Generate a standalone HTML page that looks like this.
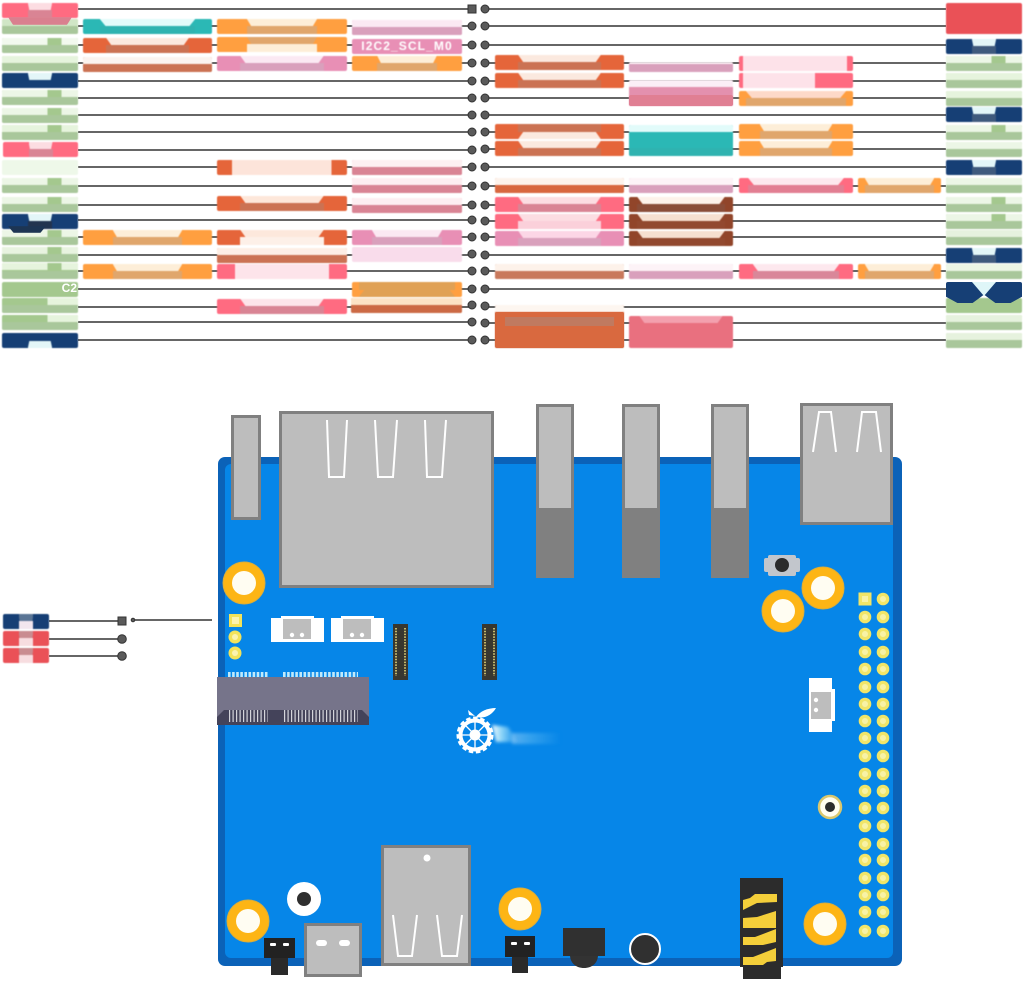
<!DOCTYPE html>
<html><head><meta charset="utf-8"><title>Board pinout</title>
<style>
html,body{margin:0;padding:0;background:#fff}
#p{position:relative;width:1024px;height:981px;overflow:hidden;background:#fff;font-family:"Liberation Sans",sans-serif}
svg{position:absolute;left:0;top:0}
.l{position:absolute;height:15px;border-radius:2px;background:var(--c);overflow:hidden;color:#fff;font-size:12px;font-weight:bold;line-height:15px;text-align:center;white-space:nowrap;filter:blur(.45px)}
.l::before{content:"";position:absolute;left:var(--k,18%);right:var(--k,18%);top:0;height:7px;background:var(--a);clip-path:polygon(0 0,100% 0,94% 100%,6% 100%)}
.l::after{content:"";position:absolute;left:var(--k,18%);right:var(--k,18%);bottom:0;height:8px;background:var(--m)}
.i::before{top:auto;bottom:0;clip-path:polygon(6% 0,94% 0,100% 100%,0 100%)}
.i::after{bottom:auto;top:0}
.w::before{left:0;right:0;height:7px;clip-path:none}
.w::after{left:0;right:0}
.q::before{background:linear-gradient(90deg,var(--a) 0 60%,var(--c) 60% 78%,var(--a) 78%)}
.y::before{background:linear-gradient(90deg,var(--c) 0 60%,var(--a) 60% 100%)}
.f{background:var(--a)}
.f::before{display:none}
.f::after{display:none}
.h::before,.h::after{display:none}
.x{--k:34%}
.g{--c:#a4c88e;--a:#e6f4dd;--m:#a9c79b}
.n{--c:#163f75;--a:#e3f6f8;--m:#3f5a7d}
.p{--c:#ff6b81;--a:#fcdde2;--m:#d98494}
.o{--c:#ff9f40;--a:#fdeed8;--m:#e0a66c;--k:23%}
.r{--c:#e5653a;--a:#fbe9df;--m:#cb7253}
.m{--c:#e88fb5;--a:#fbe9f3;--m:#d9a0bc}
.t{--c:#2bb8b5;--a:#e2fbfa;--m:#2fb3b0;--k:13%}
.b{--c:#91452a;--a:#f6e0d0;--m:#92492f;--k:8%}
.e{--c:#ea5157;--a:#f7dde0;--m:#c98c90}
.c2{position:absolute;z-index:2;color:#fff;font-size:12px;font-weight:bold;text-align:right}
</style></head><body><div id="p">
<svg width="1024" height="981" viewBox="0 0 1024 981">
<g stroke="#333" stroke-width="1.500">
<path d="M78 9H472M78 26H472M78 45H472M78 63H472M78 81H472M78 98H472M78 115H472M78 132H472M78 150H472M78 167H472M78 186H472M78 205H472M78 220H472M78 237H472M78 255H472M78 271H472M78 289H472M78 307H472M78 322H472M78 340H472"/>
<path d="M485 9H946M485 26H946M485 45H946M485 63H946M485 81H946M485 98H946M485 115H946M485 132H946M485 149H946M485 167H946M485 186H946M485 205H946M485 221H946M485 237H946M485 255H946M485 271H946M485 289H946M485 307H946M485 323H946M485 340H946"/>
<path d="M49 621H122M49 639H122M49 656H122M133 620H212"/>
</g>
<g fill="#5a5a5a" stroke="#333" stroke-width="1">
<rect x="468" y="5" width="8" height="8"/>
<circle cx="472" cy="26" r="4"/><circle cx="472" cy="45" r="4"/><circle cx="472" cy="63" r="4"/><circle cx="472" cy="81" r="4"/><circle cx="472" cy="98" r="4"/><circle cx="472" cy="115" r="4"/><circle cx="472" cy="132" r="4"/><circle cx="472" cy="150" r="4"/><circle cx="472" cy="167" r="4"/><circle cx="472" cy="186" r="4"/><circle cx="472" cy="205" r="4"/><circle cx="472" cy="220" r="4"/><circle cx="472" cy="237" r="4"/><circle cx="472" cy="254" r="4"/><circle cx="472" cy="271" r="4"/><circle cx="472" cy="289" r="4"/><circle cx="472" cy="305" r="4"/><circle cx="472" cy="322" r="4"/><circle cx="472" cy="340" r="4"/>
<circle cx="485" cy="9" r="4"/><circle cx="485" cy="26" r="4"/><circle cx="485" cy="45" r="4"/><circle cx="485" cy="63" r="4"/><circle cx="485" cy="81" r="4"/><circle cx="485" cy="98" r="4"/><circle cx="485" cy="115" r="4"/><circle cx="485" cy="132" r="4"/><circle cx="485" cy="149" r="4"/><circle cx="485" cy="167" r="4"/><circle cx="485" cy="186" r="4"/><circle cx="485" cy="205" r="4"/><circle cx="485" cy="221" r="4"/><circle cx="485" cy="237" r="4"/><circle cx="485" cy="255" r="4"/><circle cx="485" cy="271" r="4"/><circle cx="485" cy="289" r="4"/><circle cx="485" cy="306" r="4"/><circle cx="485" cy="323" r="4"/><circle cx="485" cy="340" r="4"/>
<rect x="118" y="617" width="8" height="8"/><circle cx="122" cy="639" r="4.300"/><circle cx="122" cy="656" r="4.300"/><circle cx="133" cy="620" r="1.800"/>
</g>

<!-- board -->
<rect x="218" y="457" width="684" height="509" rx="7" fill="#0b62b8"/>
<rect x="225" y="464" width="668" height="494" rx="6" fill="#0686e8"/>
<defs>
<linearGradient id="sw" x1="0" x2="1"><stop offset="0" stop-color="#f2fbff"/><stop offset=".35" stop-color="#8fd6f8"/><stop offset="1" stop-color="#0686e8"/></linearGradient>
<filter id="bl" x="-20%" y="-50%" width="140%" height="200%"><feGaussianBlur stdDeviation="1.500"/></filter>
</defs>

<g fill="#bdbdbd" stroke="#808080" stroke-width="3">
<rect x="232.500" y="416.500" width="27" height="102"/>
<rect x="280.500" y="412.500" width="212" height="174"/>
<rect x="537.500" y="405.500" width="35" height="171"/>
<rect x="623.500" y="405.500" width="35" height="171"/>
<rect x="712.500" y="405.500" width="35" height="171"/>
<rect x="801.500" y="404.500" width="90" height="119"/>
<rect x="382.500" y="846.500" width="87" height="118"/>
<rect x="305.500" y="924.500" width="55" height="51"/>
</g>
<rect x="536" y="508" width="38" height="70" fill="#808080"/>
<rect x="622" y="508" width="38" height="70" fill="#808080"/>
<rect x="711" y="508" width="38" height="70" fill="#808080"/>
<g fill="none" stroke="#fff" stroke-width="2">
<path d="M327 420L329 477H344L347 420M375 420L378 477H393L397 420M425 420L427 477H442L446 420"/>
<path d="M813 452L819 412H831L836 452M857 452L862 412H876L881 452"/>
<path d="M393 915L398 956H412L417 915M437 915L442 956H457L462 915"/>
</g>
<circle cx="427" cy="858" r="3.500" fill="#fff"/>
<rect x="316" y="940" width="11" height="6" rx="3" fill="#fff"/><rect x="339" y="940" width="11" height="6" rx="3" fill="#fff"/>

<!-- mounting holes -->
<g fill="#fdb515" stroke="#d9ad3c">
<circle cx="244" cy="583" r="21"/><circle cx="823" cy="588" r="21"/><circle cx="783" cy="611" r="21"/><circle cx="248" cy="921" r="21"/><circle cx="520" cy="909" r="21"/><circle cx="825" cy="924" r="21"/>
</g>
<g fill="#fffdf2">
<circle cx="244" cy="583" r="12"/><circle cx="823" cy="588" r="12"/><circle cx="783" cy="611" r="12"/><circle cx="248" cy="921" r="12"/><circle cx="520" cy="909" r="12"/><circle cx="825" cy="924" r="12"/>
</g>

<!-- button -->
<rect x="764" y="558" width="36" height="14" rx="2" fill="#c2c6cc"/><rect x="768" y="555" width="28" height="21" rx="2" fill="#c2c6cc"/><circle cx="782" cy="565" r="7" fill="#2b2b2b"/>

<!-- small pads -->
<rect x="229" y="614" width="13" height="13" fill="#f3e35a"/><rect x="232" y="617" width="7" height="7" fill="#fbf3b0"/>
<circle cx="235" cy="637" r="6.500" fill="#f3e35a"/><circle cx="235" cy="637" r="3" fill="#fbf3b0"/>
<circle cx="235" cy="653" r="6.500" fill="#f3e35a"/><circle cx="235" cy="653" r="3" fill="#fbf3b0"/>

<!-- white connectors -->
<g fill="#fff"><rect x="271" y="618" width="53" height="24"/><rect x="281" y="616" width="33" height="4"/><rect x="331" y="618" width="53" height="24"/><rect x="341" y="616" width="33" height="4"/>
<rect x="809" y="678" width="23" height="54"/><rect x="830" y="689" width="5" height="32"/></g>
<g fill="#bdbdbd"><rect x="283" y="619" width="28" height="20"/><rect x="343" y="619" width="28" height="20"/><rect x="811" y="692" width="20" height="27"/></g>
<g fill="#fff"><circle cx="292" cy="635" r="2.200"/><circle cx="302" cy="635" r="2.200"/><circle cx="352" cy="635" r="2.200"/><circle cx="362" cy="635" r="2.200"/><circle cx="816" cy="700" r="2.200"/><circle cx="816" cy="710" r="2.200"/></g>

<!-- M.2 -->
<path d="M228 674.500H269M283 674.500H358" stroke="#bfe9fb" stroke-width="5" stroke-dasharray="2.600 1.500"/>
<rect x="217" y="677" width="152" height="45" fill="#76748a"/>
<path d="M217 725V717L224 710H362L369 717V725Z" fill="#44435a"/>
<path d="M229 716H268M284 716H358" stroke="#d4d4da" stroke-width="12" stroke-dasharray="1.200 2.300"/>

<!-- FPC -->
<rect x="393" y="624" width="15" height="56" fill="#38372f"/><rect x="482" y="624" width="15" height="56" fill="#38372f"/>
<path d="M396 628V676M405 628V676M485 628V676M494 628V676" stroke="#e4d77c" stroke-width="1.600" stroke-dasharray="1.500 1.300"/>

<!-- logo -->
<path d="M492 725L508 727L518 742H496Z" fill="url(#sw)" filter="url(#bl)"/>
<rect x="512" y="733" width="48" height="11" fill="url(#sw)" opacity=".35" filter="url(#bl)"/>
<circle cx="475" cy="735" r="14.500" fill="none" stroke="#fff" stroke-width="4"/>
<circle cx="475" cy="735" r="17" fill="none" stroke="#fff" stroke-width="3" stroke-dasharray="4.500 2.600"/>
<path d="M475 721V749M461 735H489M465 725L485 745M485 725L465 745" stroke="#fff" stroke-width="1.300"/>
<circle cx="475" cy="735" r="5.500" fill="#fff"/>
<path d="M476 717C480 711 488 708 496 708C492 715 485 719 476 717Z" fill="#fff"/><path d="M468 710L475 716L469 715Z" fill="#fff"/>

<!-- header -->
<g fill="#f1e568">
<rect x="858.500" y="592.500" width="13" height="13"/>
<circle cx="883" cy="599" r="6.300"/>
<circle cx="865" cy="617" r="6.300"/><circle cx="883" cy="617" r="6.300"/><circle cx="865" cy="634" r="6.300"/><circle cx="883" cy="634" r="6.300"/><circle cx="865" cy="652" r="6.300"/><circle cx="883" cy="652" r="6.300"/><circle cx="865" cy="669" r="6.300"/><circle cx="883" cy="669" r="6.300"/><circle cx="865" cy="687" r="6.300"/><circle cx="883" cy="687" r="6.300"/><circle cx="865" cy="704" r="6.300"/><circle cx="883" cy="704" r="6.300"/><circle cx="865" cy="721" r="6.300"/><circle cx="883" cy="721" r="6.300"/><circle cx="865" cy="738" r="6.300"/><circle cx="883" cy="738" r="6.300"/><circle cx="865" cy="756" r="6.300"/><circle cx="883" cy="756" r="6.300"/><circle cx="865" cy="774" r="6.300"/><circle cx="883" cy="774" r="6.300"/><circle cx="865" cy="791" r="6.300"/><circle cx="883" cy="791" r="6.300"/><circle cx="865" cy="808" r="6.300"/><circle cx="883" cy="808" r="6.300"/><circle cx="865" cy="826" r="6.300"/><circle cx="883" cy="826" r="6.300"/><circle cx="865" cy="844" r="6.300"/><circle cx="883" cy="844" r="6.300"/><circle cx="865" cy="860" r="6.300"/><circle cx="883" cy="860" r="6.300"/><circle cx="865" cy="878" r="6.300"/><circle cx="883" cy="878" r="6.300"/><circle cx="865" cy="895" r="6.300"/><circle cx="883" cy="895" r="6.300"/><circle cx="865" cy="912" r="6.300"/><circle cx="883" cy="912" r="6.300"/><circle cx="865" cy="931" r="6.300"/><circle cx="883" cy="931" r="6.300"/>
</g>
<g fill="#f8f2a6">
<rect x="862" y="596" width="6" height="6"/>
<circle cx="883" cy="599" r="3"/><circle cx="865" cy="617" r="3"/><circle cx="883" cy="617" r="3"/><circle cx="865" cy="634" r="3"/><circle cx="883" cy="634" r="3"/><circle cx="865" cy="652" r="3"/><circle cx="883" cy="652" r="3"/><circle cx="865" cy="669" r="3"/><circle cx="883" cy="669" r="3"/><circle cx="865" cy="687" r="3"/><circle cx="883" cy="687" r="3"/><circle cx="865" cy="704" r="3"/><circle cx="883" cy="704" r="3"/><circle cx="865" cy="721" r="3"/><circle cx="883" cy="721" r="3"/><circle cx="865" cy="738" r="3"/><circle cx="883" cy="738" r="3"/><circle cx="865" cy="756" r="3"/><circle cx="883" cy="756" r="3"/><circle cx="865" cy="774" r="3"/><circle cx="883" cy="774" r="3"/><circle cx="865" cy="791" r="3"/><circle cx="883" cy="791" r="3"/><circle cx="865" cy="808" r="3"/><circle cx="883" cy="808" r="3"/><circle cx="865" cy="826" r="3"/><circle cx="883" cy="826" r="3"/><circle cx="865" cy="844" r="3"/><circle cx="883" cy="844" r="3"/><circle cx="865" cy="860" r="3"/><circle cx="883" cy="860" r="3"/><circle cx="865" cy="878" r="3"/><circle cx="883" cy="878" r="3"/><circle cx="865" cy="895" r="3"/><circle cx="883" cy="895" r="3"/><circle cx="865" cy="912" r="3"/><circle cx="883" cy="912" r="3"/><circle cx="865" cy="931" r="3"/><circle cx="883" cy="931" r="3"/>
</g>

<!-- small hole -->
<circle cx="830" cy="807" r="11" fill="#fffdf0" stroke="#d9c76e" stroke-width="2.500"/><circle cx="830" cy="807" r="5" fill="#2b2b2b"/>

<!-- bottom parts -->
<circle cx="304" cy="899" r="17" fill="#fff"/><circle cx="304" cy="899" r="7" fill="#2f2f2f"/>
<rect x="264" y="938" width="31" height="20" fill="#222"/><rect x="271" y="958" width="17" height="17" fill="#2a2a2a"/>
<rect x="505" y="936" width="30" height="21" fill="#222"/><rect x="512" y="957" width="16" height="16" fill="#2a2a2a"/>
<g fill="#fff"><rect x="270" y="943" width="6" height="3" rx="1"/><rect x="283" y="943" width="6" height="3" rx="1"/><rect x="511" y="942" width="6" height="3" rx="1"/><rect x="524" y="942" width="6" height="3" rx="1"/></g>
<path d="M570 955H598C598 963 592 968 584 968C576 968 570 963 570 955Z" fill="#333"/>
<rect x="563" y="928" width="42" height="28" fill="#303030"/>
<circle cx="645" cy="949" r="15" fill="#303030" stroke="#fff" stroke-width="2"/>
<rect x="743" y="960" width="38" height="19" fill="#2c2c2c"/>
<rect x="740" y="878" width="43" height="89" fill="#2c2c2c"/>
<g fill="#f4cf3a">
<path d="M743 900L750 898L755 894H777V902L757 903L743 910Z"/>
<path d="M743 918L757 917L776 911V928H743Z"/>
<path d="M743 937L755 937L776 929V942L763 945H743Z"/>
<path d="M743 957L753 957L776 948V961L767 962L763 965H743Z"/>
</g>
</svg>

<!-- left column -->
<div class="l p x" style="left:2px;top:3px;width:76px"></div>
<div class="l g w" style="left:2px;top:19px;width:76px;--a:#d0e6c6"></div>
<div class="l" style="left:8px;top:17px;width:64px;height:8px;background:#d9808f;border-radius:0;clip-path:polygon(0 0,100% 0,92% 100%,8% 100%)"></div>
<div class="l g w q" style="left:2px;top:38px;width:76px;--a:#f2f9ee"></div>
<div class="l g w" style="left:2px;top:56px;width:76px"></div>
<div class="l n x" style="left:2px;top:73px;width:76px;--m:#163f75"></div>
<div class="l g w q" style="left:2px;top:90px;width:76px;--a:#ecf6e6"></div>
<div class="l g w q" style="left:2px;top:108px;width:76px;--a:#ecf6e6"></div>
<div class="l g w q" style="left:2px;top:125px;width:76px"></div>
<div class="l p x" style="left:3px;top:142px;width:75px"></div>
<div class="l g f" style="left:2px;top:160px;width:76px;--a:#eef8e9"></div>
<div class="l g w q" style="left:2px;top:178px;width:76px;--a:#ecf6e6"></div>
<div class="l g w q" style="left:2px;top:197px;width:76px;--a:#ecf6e6"></div>
<div class="l g w q" style="left:2px;top:230px;width:76px;--a:#ecf6e6"></div>
<div class="l n x" style="left:2px;top:214px;width:76px;--m:#22344f"></div>
<div class="l" style="left:8px;top:226px;width:38px;height:7px;border-radius:0;background:#1d3553;clip-path:polygon(0 0,100% 0,85% 100%,15% 100%)"></div>
<div class="l g w q" style="left:2px;top:247px;width:76px;--a:#e8f3e0"></div>
<div class="l g w q" style="left:2px;top:263px;width:76px;height:16px"></div>
<div class="l g h" style="left:2px;top:282px;width:76px"></div>
<div class="l g w y" style="left:2px;top:298px;width:76px"></div>
<div class="l g w y" style="left:2px;top:315px;width:76px"></div>
<div class="c2" style="left:50px;top:281px;width:27px">C2</div>
<div class="l n i x" style="left:2px;top:333px;width:76px;--m:#163f75"></div>

<!-- col 2 -->
<div class="l t" style="left:83px;top:19px;width:129px"></div>
<div class="l r" style="left:83px;top:38px;width:129px"></div>
<div class="l r w" style="left:83px;top:57px;width:129px;--a:#fbf3ef;--c:#cc6843"></div>
<div class="l o" style="left:83px;top:230px;width:129px"></div>
<div class="l o" style="left:83px;top:264px;width:129px"></div>

<!-- col 3 -->
<div class="l o" style="left:217px;top:19px;width:130px"></div>
<div class="l o" style="left:217px;top:37px;width:130px;--a:#e0a66c;--m:#fdeed8"></div>
<div class="l m" style="left:217px;top:56px;width:130px"></div>
<div class="l r f" style="left:217px;top:160px;width:130px;background:linear-gradient(90deg,#e5653a 0 15px,#fde4da 15px 88%,#e5653a 88%)"></div>
<div class="l r" style="left:217px;top:196px;width:130px;--a:#fde7da"></div>
<div class="l r" style="left:217px;top:230px;width:130px;--m:#fdf0e8;--a:#fde8dc"></div>
<div class="l r w" style="left:217px;top:248px;width:130px;--a:#fdeee5"></div>
<div class="l p f" style="left:217px;top:264px;width:130px;background:linear-gradient(90deg,#ff6b81 0 18px,#fde4ea 18px 86%,#ff6b81 86%)"></div>
<div class="l p" style="left:217px;top:299px;width:130px;--a:#fde4ea"></div>

<!-- col 4 -->
<div class="l m w" style="left:352px;top:20px;width:110px"></div>
<div class="l m h" style="left:352px;top:39px;width:110px;letter-spacing:1.100px">I2C2_SCL_M0</div>
<div class="l o" style="left:352px;top:56px;width:110px"></div>
<div class="l p w" style="left:352px;top:160px;width:110px;--a:#fdf0f2;--c:#e0788e"></div>
<div class="l p w" style="left:352px;top:178px;width:110px;--a:#fdeef1;--c:#e67b8c"></div>
<div class="l p w" style="left:352px;top:198px;width:110px;--a:#fdeef1;--c:#f07488"></div>
<div class="l m" style="left:352px;top:230px;width:110px;--a:#fbe8f2"></div>
<div class="l m f" style="left:352px;top:247px;width:110px;--a:#f9dceb"></div>
<div class="l o i" style="left:352px;top:282px;width:110px;--a:#e0a155;--m:#e0a155;--k:6%"></div>
<div class="l r w" style="left:351px;top:298px;width:111px;--a:#fce3c6;--m:#cc6a45"></div>

<!-- right col A -->
<div class="l r" style="left:495px;top:55px;width:129px"></div>
<div class="l r" style="left:495px;top:73px;width:129px"></div>
<div class="l r i" style="left:495px;top:124px;width:129px"></div>
<div class="l r" style="left:495px;top:141px;width:129px"></div>
<div class="l r w" style="left:495px;top:178px;width:129px;--a:#fdf3ec;--c:#d8673f;--m:#d8673f"></div>
<div class="l p" style="left:495px;top:197px;width:129px"></div>
<div class="l p" style="left:495px;top:214px;width:129px;--m:#fbd0da"></div>
<div class="l m" style="left:495px;top:231px;width:129px;--a:#fcd6e6"></div>
<div class="l r w" style="left:495px;top:264px;width:129px;--a:#fdf2ea;--c:#c9795c;--m:#c9795c"></div>
<div class="l r w" style="left:495px;top:305px;width:129px;height:43px;--a:#fdf6f0;--c:#d86a45;--m:#c87458"></div>
<div style="position:absolute;left:495px;top:312px;width:129px;height:36px;background:#d9693f;border-radius:2px"></div>
<div style="position:absolute;left:505px;top:317px;width:109px;height:9px;background:#c07a60"></div>

<!-- right col B -->
<div class="l m w" style="left:629px;top:62px;width:104px;height:10px;--a:#fbf0f5;--c:#d8a0b8"></div>
<div class="l m w" style="left:629px;top:80px;width:104px;height:26px;--a:#fbeef6;--c:#e390ae;--m:#e390ae"></div>
<div style="position:absolute;left:629px;top:95px;width:104px;height:11px;background:#e07f93;border-radius:2px"></div>
<div class="l t w" style="left:629px;top:125px;width:104px;height:31px;--m:#2fb3b0;--a:#e2fbfa"></div>
<div class="l m w" style="left:629px;top:178px;width:104px;--a:#fdf3f7;--c:#dfa0bb"></div>
<div class="l b" style="left:629px;top:197px;width:104px;--a:#fdf2ea;--m:#8a4d38"></div>
<div class="l b" style="left:629px;top:214px;width:104px"></div>
<div class="l b" style="left:629px;top:231px;width:104px"></div>
<div class="l m w" style="left:629px;top:264px;width:104px;--a:#fdf3f7;--c:#dfa0bb"></div>
<div class="l p" style="left:629px;top:316px;width:104px;height:32px;--m:#e9707f;--a:#f3a0ae;background:#e9707f;--k:10%"></div>

<!-- right col C -->
<div class="l p f" style="left:739px;top:56px;width:114px;background:linear-gradient(90deg,#ff6b81 0 4px,#fde2e9 4px 108px,#ff6b81 108px)"></div>
<div class="l p f" style="left:739px;top:73px;width:114px;background:linear-gradient(90deg,#ff6b81 0 4px,#fde2e9 4px 76px,#ff6b81 76px)"></div>
<div class="l o" style="left:739px;top:91px;width:114px;--a:#fdd9c8;--k:6%"></div>
<div class="l o" style="left:739px;top:124px;width:114px;--k:18%"></div>
<div class="l o" style="left:739px;top:141px;width:114px;--k:18%"></div>
<div class="l p" style="left:739px;top:178px;width:114px;--a:#fde8ee;--m:#e27e92;--k:8%"></div>
<div class="l p" style="left:739px;top:264px;width:114px;--a:#fde8ee;--m:#d98799;--k:12%"></div>

<!-- right col D -->
<div class="l o" style="left:858px;top:178px;width:83px;--k:8%"></div>
<div class="l o" style="left:858px;top:264px;width:83px;--k:8%"></div>

<!-- right col E -->
<div class="l e" style="left:946px;top:3px;width:76px;height:31px;--a:#ea5157;--m:#ea5157"></div>
<div class="l n x" style="left:946px;top:39px;width:76px"></div>
<div class="l g w q" style="left:946px;top:56px;width:76px;--a:#ecf6e6"></div>
<div class="l g w" style="left:946px;top:73px;width:76px"></div>
<div class="l g w" style="left:946px;top:91px;width:76px"></div>
<div class="l n x" style="left:946px;top:107px;width:76px"></div>
<div class="l g w q" style="left:946px;top:125px;width:76px;--a:#ecf6e6"></div>
<div class="l g w" style="left:946px;top:142px;width:76px;--a:#ecf6e6"></div>
<div class="l n x" style="left:946px;top:160px;width:76px"></div>
<div class="l g w" style="left:946px;top:178px;width:76px;--a:#ecf6e6"></div>
<div class="l g w q" style="left:946px;top:197px;width:76px;--a:#ecf6e6"></div>
<div class="l g w q" style="left:946px;top:214px;width:76px;--a:#ecf6e6"></div>
<div class="l g w" style="left:946px;top:230px;width:76px;--a:#e6f2de"></div>
<div class="l n x" style="left:946px;top:248px;width:76px"></div>
<div class="l g w" style="left:946px;top:264px;width:76px;--a:#ecf6e6"></div>
<div class="l g h" style="left:946px;top:298px;width:76px"></div>
<div style="position:absolute;left:946px;top:282px;width:76px;height:21px;background:#163f75;border-radius:2px;clip-path:polygon(0 0,100% 0,100% 70%,85% 100%,65% 100%,50% 60%,35% 100%,15% 100%,0 70%)"></div>
<div style="position:absolute;left:972px;top:282px;width:24px;height:14px;background:#dff6f8;clip-path:polygon(0 0,100% 0,50% 100%)"></div>
<div class="l g w" style="left:946px;top:315px;width:76px;--a:#e6f2de"></div>
<div class="l g w" style="left:946px;top:333px;width:76px;--a:#e6f2de"></div>

<!-- lower left labels -->
<div class="l n x" style="left:3px;top:614px;width:46px;--a:#5a7595;--m:#f2e6ee"></div>
<div class="l e x" style="left:3px;top:631px;width:46px;--a:#c98c90;--m:#f7dde0"></div>
<div class="l e x" style="left:3px;top:648px;width:46px;--a:#c98c90;--m:#f7dde0"></div>
</div></body></html>
